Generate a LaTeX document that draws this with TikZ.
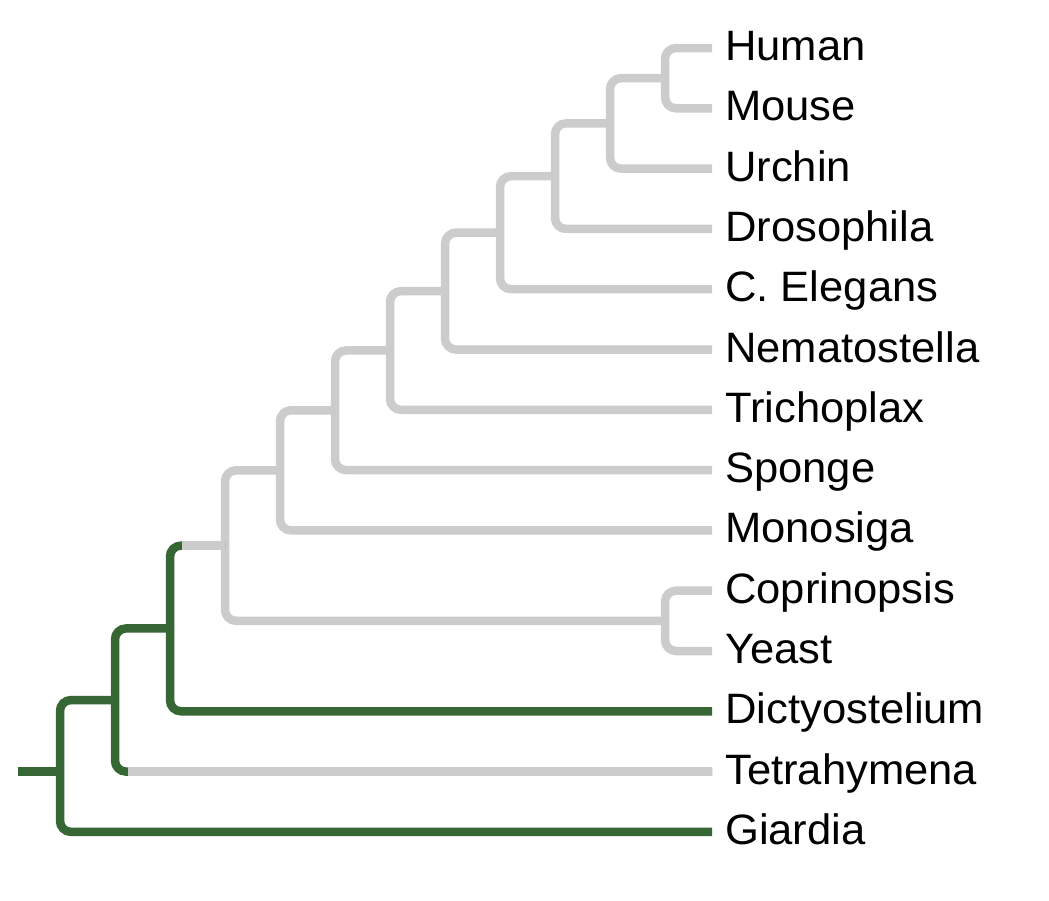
\documentclass[tikz,border=0pt]{standalone}
\usepackage{fontspec}
\setmainfont{Liberation Sans}[FakeStretch=1.025]
\usetikzlibrary{calc}

\definecolor{clgreen}{RGB}{53,102,51}
\definecolor{clgrey}{RGB}{204,204,204}

% internal node: x position, halfway between its two children in y
\newcommand{\clade}[4]{\path let \p1=($(#3)!.5!(#4)$) in (#2pt,\y1) coordinate (#1);}

\begin{document}
\begin{tikzpicture}[x=1pt, y=-1pt,
	branch/.style={line width=8.5pt, rounded corners=11pt},
	greybranch/.style={branch, draw=clgrey},
	greenbranch/.style={branch, draw=clgreen},
	leaf/.style={anchor=base west, inner sep=0pt, font=\fontsize{42.5}{50}\selectfont}]
	\useasboundingbox (0,0) rectangle (1049,900);

	% leaves
	\foreach \leaf/\txt [count=\i from 0] in {human/Human, mouse/Mouse, urchin/Urchin, droso/Drosophila, elegans/C. Elegans, nemato/Nematostella, tricho/Trichoplax, sponge/Sponge, monosiga/Monosiga, coprin/Coprinopsis, yeast/Yeast, dicty/Dictyostelium, tetra/Tetrahymena, giardia/Giardia}{
		\coordinate (t-\leaf) at (712, {48+60.3*\i});
		\node[leaf] (\leaf) at (725, {60.5+60.3*\i}) {\txt};
	}

	% internal nodes
	\clade{hm}{665}{t-human}{t-mouse}
	\clade{deut}{610}{hm}{t-urchin}
	\clade{bil}{555}{deut}{t-droso}
	\clade{ecdy}{500}{bil}{t-elegans}
	\clade{eumet}{445}{ecdy}{t-nemato}
	\clade{plac}{390}{eumet}{t-tricho}
	\clade{metaz}{335}{plac}{t-sponge}
	\clade{choano}{280}{metaz}{t-monosiga}
	\clade{cy}{665}{t-coprin}{t-yeast}
	\clade{opist}{225}{choano}{cy}
	\clade{amorph}{170}{opist}{t-dicty}
	\clade{bikont}{115}{amorph}{t-tetra}
	\clade{top}{60}{bikont}{t-giardia}

	% grey branches
	\draw[greybranch] (t-human) -| (hm) |- (t-mouse);
	\draw[greybranch] (hm) -| (deut) |- (t-urchin);
	\draw[greybranch] (deut) -| (bil) |- (t-droso);
	\draw[greybranch] (bil) -| (ecdy) |- (t-elegans);
	\draw[greybranch] (ecdy) -| (eumet) |- (t-nemato);
	\draw[greybranch] (eumet) -| (plac) |- (t-tricho);
	\draw[greybranch] (plac) -| (metaz) |- (t-sponge);
	\draw[greybranch] (metaz) -| (choano) |- (t-monosiga);
	\draw[greybranch] (t-coprin) -| (cy) |- (t-yeast);
	\draw[greybranch] (choano) -| (opist) |- (cy);

	% green branches
	\draw[greenbranch] (opist) -| (amorph) |- (t-dicty);
	\draw[greenbranch] (amorph) -| (bikont) |- (t-tetra);
	\draw[greenbranch] (bikont) -| (top) |- (t-giardia);
	\coordinate (root) at ($(top |- t-tetra)+(-42,0)$);
	\draw[greenbranch] (root) -- (top |- t-tetra);

	% grey again past the green corners
	\draw[greybranch] ($(amorph |- opist)+(12,0)$) -- (opist);
	\draw[greybranch] ($(bikont |- t-tetra)+(13,0)$) -- (t-tetra);
\end{tikzpicture}
\end{document}
